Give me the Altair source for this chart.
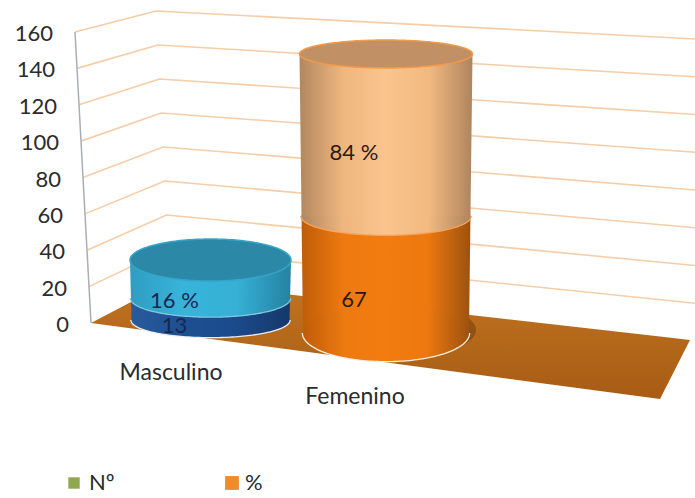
import numpy as np
import pandas as pd
import altair as alt

# Chart values
categories = ["Masculino", "Femenino"]
count_values = [13, 67]
percent_values = [16, 84]
tick_values = [0, 20, 40, 60, 80, 100, 120, 140, 160]
legend_labels = ["Nº", "%"]

FONT = "Lato"
W, H = 695, 498

# Oblique view of the chart box: left edge, back corner and right edge of the wall.
def wall_left(v):
    return 91 - 16 * v / 160, 323 - 291 * v / 160

def wall_corner(v):
    return 170 - 14 * v / 160, 283 - 272 * v / 160

def wall_right(v):
    return 695, 341 - 302 * v / 160

# Camera settings of each cylinder: centre, base level, growth per unit, ellipse radii.
CAMERA = {
    "Masculino": dict(cx=210.5, base=320, k=1.38, q=0.0237, rx0=79, rx1=80.5, ry0=17, ry1=21, top=29),
    "Femenino": dict(cx=386, base=333, k=1.665, q=0.00121, rx0=83, rx1=86.5, ry0=28, ry1=14, top=151),
}

def level(cat, v):
    c = CAMERA[cat]
    rise = c["k"] * v + c["q"] * v * v
    full = c["k"] * c["top"] + c["q"] * c["top"] ** 2
    t = rise / full
    rx = c["rx0"] + (c["rx1"] - c["rx0"]) * t
    if cat == "Femenino":
        ry = c["ry1"] + (c["ry0"] - c["ry1"]) * (1 - t) ** 2
    else:
        ry = c["ry0"] + (c["ry1"] - c["ry0"]) * t
    return c["base"] - rise, rx, ry

def ellipse(cat, v, dx=0.0, dy=0.0, scale=1.0):
    cy, rx, ry = level(cat, v)
    a = np.linspace(0, np.pi, 91)
    xs = CAMERA[cat]["cx"] + dx - rx * scale * np.cos(a)
    return pd.DataFrame({
        "x": xs,
        "y": cy + dy - ry * scale * np.sin(a),
        "y2": cy + dy + ry * scale * np.sin(a),
    })

def sides(cat, v0, v1):
    y0, rx0, _ = level(cat, v0)
    y1, rx1, _ = level(cat, v1)
    cx = CAMERA[cat]["cx"]
    return pd.DataFrame({
        "y": [y1, y0],
        "x": [cx - rx1, cx - rx0],
        "x2": [cx + rx1, cx + rx0],
    })

X = alt.X("x:Q", scale=alt.Scale(domain=[0, W], range=[0, W], nice=False, zero=False), axis=None)
Y = alt.Y("y:Q", scale=alt.Scale(domain=[H, 0], range=[H, 0], nice=False, zero=False), axis=None)

def side_gradient(colors):
    n = len(colors) - 1
    return alt.LinearGradient(
        gradient="linear", x1=0, x2=1, y1=0, y2=0,
        stops=[alt.GradientStop(color=c, offset=i / n) for i, c in enumerate(colors)],
    )

def fill_ellipse(df, fill, opacity=1.0):
    return alt.Chart(df).mark_area(color=fill, opacity=opacity, clip=True).encode(x=X, y=Y, y2="y2:Q")

def fill_sides(df, fill):
    return alt.Chart(df).mark_area(color=fill, orient="horizontal", clip=True).encode(y=Y, x=X, x2="x2:Q")

def rim(cat, v, color, width, lower_only=False):
    df = ellipse(cat, v)
    front = pd.DataFrame({"x": df["x"], "y": df["y2"], "o": np.arange(len(df))})
    if lower_only:
        path = front
    else:
        back = pd.DataFrame({"x": df["x"][::-1], "y": df["y"][::-1], "o": np.arange(len(df), 2 * len(df))})
        path = pd.concat([front, back])
    return alt.Chart(path).mark_line(color=color, strokeWidth=width, clip=True).encode(x=X, y=Y, order="o:Q")

layers = []

# Floor of the chart box
fl, bk, br = wall_left(0), (171, 281), (690, 340)
fr = (660, 399)
back_y = lambda x: bk[1] + (br[1] - bk[1]) * (x - bk[0]) / (br[0] - bk[0])
front_y = lambda x: fl[1] + (fr[1] - fl[1]) * (x - fl[0]) / (fr[0] - fl[0])
floor = pd.DataFrame({
    "x": [fl[0], bk[0], fr[0], br[0]],
    "y": [fl[1], bk[1], back_y(fr[0]), br[1]],
    "y2": [fl[1], front_y(bk[0]), fr[1], br[1]],
})
floor_fill = alt.LinearGradient(
    gradient="linear", x1=0, x2=0, y1=0, y2=1,
    stops=[alt.GradientStop(color="#c17420", offset=0), alt.GradientStop(color="#a85c14", offset=1)],
)
layers.append(alt.Chart(floor).mark_area(color=floor_fill, clip=True).encode(x=X, y=Y, y2="y2:Q"))

# Gridlines bent round the back corner of the wall
grid_rows = []
for v in tick_values[1:]:
    for o, p in enumerate((wall_left(v), wall_corner(v), wall_right(v))):
        grid_rows.append({"x": p[0], "y": p[1], "v": v, "o": o})
layers.append(
    alt.Chart(pd.DataFrame(grid_rows)).mark_line(color="#f6cda6", strokeWidth=1.6)
    .encode(x=X, y=Y, detail="v:N", order="o:Q")
)

# Value axis line
axis_df = pd.DataFrame([{"x": wall_left(v)[0], "y": wall_left(v)[1]} for v in (0, 160)])
layers.append(alt.Chart(axis_df).mark_line(color="#a9aeb6", strokeWidth=1.5).encode(x=X, y=Y))

# Tick labels follow the slanted axis
ticks = pd.DataFrame({
    "x": [wall_left(v)[0] - 22 for v in tick_values],
    "y": [wall_left(v)[1] + 2 for v in tick_values],
    "label": [str(v) for v in tick_values],
})
layers.append(
    alt.Chart(ticks).mark_text(font=FONT, fontSize=22, align="right", baseline="middle", color="#2b2b2b")
    .encode(x=X, y=Y, text="label:N")
)

STYLES = {
    "Masculino": dict(
        lower=["#2a5a9c", "#1c4f92", "#1b4a8a", "#16386b"],
        upper=["#2f9dc2", "#38b4da", "#36b0d5", "#2582a2"],
        top="#2b88a6", top_rim="#37a5c8", seam="#7fc8de", base="#e8eef4",
    ),
    "Femenino": dict(
        lower=["#c05c08", "#ee7a10", "#f27c0e", "#ec780f", "#9c520f"],
        upper=["#b1875e", "#efb67f", "#fbc48e", "#f2b980", "#ae845e"],
        top="#c19065", top_rim="#f2994a", seam="#f5a45f", base="#f7efe2",
    ),
}

for i, cat in enumerate(categories):
    st = STYLES[cat]
    n, p = count_values[i], percent_values[i]
    total = n + p
    if cat == "Femenino":
        # Soft contact shadow on the floor
        layers.append(fill_ellipse(ellipse(cat, 0, dx=7, dy=-3), "#5a2e08", 0.4))
    # Each rim sits under its fill, so only the outer half stays visible
    layers.append(rim(cat, 0, st["base"], 2.6, lower_only=True))
    layers.append(fill_sides(sides(cat, 0, n), side_gradient(st["lower"])))
    layers.append(fill_ellipse(ellipse(cat, 0), side_gradient(st["lower"])))
    layers.append(rim(cat, n, st["seam"], 2.6, lower_only=True))
    layers.append(fill_ellipse(ellipse(cat, n), side_gradient(st["upper"])))
    layers.append(fill_sides(sides(cat, n, total), side_gradient(st["upper"])))
    layers.append(fill_ellipse(ellipse(cat, total), st["top"]))
    layers.append(rim(cat, total, st["top_rim"], 1.5))

# Data labels, placed from the middle of each segment
label_rows = []
label_shift = {"Masculino": (-36, 17, 22, "#16294d"), "Femenino": (-32, 25, 18, "#2a1a10")}
for i, cat in enumerate(categories):
    dx, dy_low, dy_up, col = label_shift[cat]
    n, p = count_values[i], percent_values[i]
    cx = CAMERA[cat]["cx"] + dx
    label_rows.append({"x": cx, "y": (level(cat, 0)[0] + level(cat, n)[0]) / 2 + dy_low, "t": str(n), "c": col})
    label_rows.append({"x": cx, "y": (level(cat, n)[0] + level(cat, n + p)[0]) / 2 + dy_up, "t": f"{p} %", "c": col})
layers.append(
    alt.Chart(pd.DataFrame(label_rows)).mark_text(font=FONT, fontSize=22, align="center", baseline="middle")
    .encode(x=X, y=Y, text="t:N", color=alt.Color("c:N", scale=None))
)

# Category labels under the floor
cat_df = pd.DataFrame({"x": [171, 355], "y": [373, 397], "t": categories})
layers.append(
    alt.Chart(cat_df).mark_text(font=FONT, fontSize=23, align="center", baseline="middle", color="#2b2b2b")
    .encode(x=X, y=Y, text="t:N")
)

# Legend row
legend_sq = pd.DataFrame({"x": [74, 232], "y": [483, 483], "c": ["#8fa84f", "#ef8a2a"], "s": [130, 190]})
layers.append(
    alt.Chart(legend_sq).mark_point(shape="square", filled=True, opacity=1)
    .encode(x=X, y=Y, color=alt.Color("c:N", scale=None), size=alt.Size("s:Q", scale=None))
)
legend_tx = pd.DataFrame({"x": [89, 245], "y": [483, 483], "t": legend_labels})
layers.append(
    alt.Chart(legend_tx).mark_text(font=FONT, fontSize=22, align="left", baseline="middle", color="#2b2b2b")
    .encode(x=X, y=Y, text="t:N")
)

chart = (
    alt.layer(*layers)
    .properties(width=W, height=H, padding=0, autosize=alt.AutoSizeParams(type="none"))
    .configure_view(stroke=None)
)
chart.save("out.html", embed_options={"renderer": "svg", "actions": False})
